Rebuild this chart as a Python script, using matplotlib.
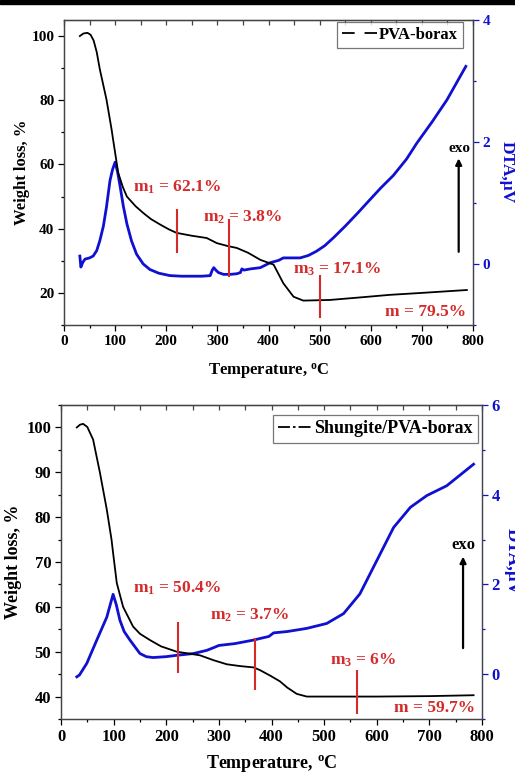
import matplotlib
matplotlib.use("Agg")
import matplotlib.pyplot as plt
from matplotlib.lines import Line2D
from matplotlib.patches import Rectangle
from matplotlib.ticker import MultipleLocator

# ---- PVA-borax (top panel) ----
pva_tga_T = [31, 38, 46, 52, 58, 64, 70, 83, 93, 96, 102, 106, 115, 123, 140, 155, 170,
             188, 205, 220, 250, 279, 299, 320, 338, 360, 384, 410, 429, 449, 468, 520,
             580, 638, 700, 788]
pva_tga_w = [100, 100.8, 101, 100.4, 98.6, 95, 89.7, 80.3, 71, 67.8, 61.6, 57.4, 53, 50,
             47, 44.9, 43, 41.3, 39.8, 38.7, 37.8, 37.1, 35.5, 34.6, 34, 32.5, 30.3, 28.8,
             23, 18.8, 17.6, 17.8, 18.6, 19.4, 20.0, 20.9]

pva_dta_T = [31, 33, 37, 41, 50, 57, 64, 70, 77, 83, 90, 95, 100, 105, 110, 116, 123,
             132, 142, 155, 168, 185, 207, 230, 253, 270, 286, 290, 293, 297, 302, 312,
             325, 338, 345, 348, 352, 365, 384, 403, 420, 429, 445, 462, 478, 494, 510,
             527, 550, 575, 599, 620, 644, 670, 690, 720, 749, 786]
pva_dta_v = [0.13, -0.05, 0.03, 0.08, 0.10, 0.13, 0.22, 0.38, 0.62, 0.93, 1.37, 1.55,
             1.67, 1.5, 1.26, 0.95, 0.66, 0.38, 0.16, 0.0, -0.09, -0.15, -0.19, -0.2,
             -0.2, -0.2, -0.19, -0.1, -0.06, -0.1, -0.14, -0.17, -0.17, -0.16, -0.14,
             -0.08, -0.1, -0.08, -0.06, 0.02, 0.06, 0.10, 0.10, 0.10, 0.14, 0.21, 0.30,
             0.43, 0.62, 0.84, 1.06, 1.25, 1.45, 1.72, 1.98, 2.33, 2.69, 3.24]

pva_mark_T = [222, 322, 500]
pva_mark_lo = [32.5, 25, 12.2]
pva_mark_hi = [46, 43, 25.6]
pva_labels = [r"m$_{\rm 1}$ = 62.1%", r"m$_{\rm 2}$ = 3.8%", r"m$_{\rm 3}$ = 17.1%", "m = 79.5%"]

# ---- Shungite/PVA-borax (bottom panel) ----
sh_tga_T = [30, 36, 42, 50, 61, 74, 87, 96, 99, 106, 118, 137, 150, 169, 190, 220, 264,
            290, 315, 340, 366, 378, 397, 416, 430, 448, 467, 500, 600, 700, 784]
sh_tga_w = [100, 100.6, 100.8, 100.1, 97.3, 89.9, 81.7, 75, 72, 65.3, 60, 55.6, 54, 52.6,
            51.2, 50, 49.2, 48.1, 47.2, 46.8, 46.5, 45.9, 44.7, 43.4, 42, 40.6, 40, 40,
            40, 40.1, 40.3]

sh_dta_T = [30, 35, 49, 68, 87, 99, 105, 112, 120, 131, 150, 162, 175, 200, 220, 252,
            277, 292, 300, 330, 366, 380, 395, 404, 430, 467, 505, 537, 568, 600, 632,
            664, 695, 733, 784]
sh_dta_v = [-0.06, -0.02, 0.24, 0.76, 1.27, 1.78, 1.55, 1.2, 0.95, 0.76, 0.46, 0.39,
            0.37, 0.39, 0.42, 0.46, 0.53, 0.6, 0.64, 0.68, 0.76, 0.8, 0.84, 0.92, 0.95,
            1.02, 1.13, 1.35, 1.79, 2.53, 3.27, 3.72, 3.98, 4.2, 4.68]

sh_mark_T = [223, 369, 563]
sh_mark_lo = [45.2, 41.4, 36.2]
sh_mark_hi = [56.7, 53, 45.9]
sh_labels = [r"m$_{\rm 1}$ = 50.4%", r"m$_{\rm 2}$ = 3.7%", r"m$_{\rm 3}$ = 6%", "m = 59.7%"]

plt.rcParams["font.family"] = ["Liberation Serif", "DejaVu Serif"]
plt.rcParams["font.weight"] = "bold"
plt.rcParams["mathtext.fontset"] = "custom"
plt.rcParams["mathtext.rm"] = "Liberation Serif:bold"
plt.rcParams["mathtext.it"] = "Liberation Serif:bold"
plt.rcParams["mathtext.bf"] = "Liberation Serif:bold"

BLUE = "#1010d0"
RED = "#d42a2a"
SPINE = "#444444"

fig = plt.figure(figsize=(5.15, 7.76), dpi=100)
fig.patches.append(Rectangle((0, 1 - 4 / 776), 1, 4 / 776, transform=fig.transFigure,
                             color="black", zorder=0))


def panel(rect, tga_T, tga_w, dta_T, dta_v, ylim, y2lim, ymaj, ymin, mark_T, mark_lo,
          mark_hi, labels, label_pos, legend_label, legend_ls, legend_anchor,
          handle_len, exo_T, exo_lo, exo_hi, xlabel_y, ylabel_x, y2label_x, fs):
    ax = fig.add_axes(rect)
    ax2 = ax.twinx()
    ax.set_zorder(ax2.get_zorder() + 1)
    ax.patch.set_visible(False)

    ax.plot(tga_T, tga_w, color="black", lw=1.3)
    ax2.plot(dta_T, dta_v, color=BLUE, lw=2.0)

    ax.set_xlim(0, 800)
    ax.set_ylim(*ylim)
    ax2.set_ylim(*y2lim)
    ax.xaxis.set_major_locator(MultipleLocator(100))
    ax.xaxis.set_minor_locator(MultipleLocator(50))
    ax.yaxis.set_major_locator(MultipleLocator(ymaj))
    ax.yaxis.set_minor_locator(MultipleLocator(ymin))
    ax2.yaxis.set_major_locator(MultipleLocator(2))
    ax2.yaxis.set_minor_locator(MultipleLocator(1))

    ax.tick_params(which="both", direction="out", labelsize=fs, colors="black",
                   width=0.9, pad=3)
    ax.tick_params(which="major", length=4)
    ax.tick_params(which="minor", length=2.5)
    ax2.tick_params(which="both", direction="out", labelsize=fs, colors=BLUE,
                    width=0.9, pad=3)
    ax2.tick_params(which="major", length=4)
    ax2.tick_params(which="minor", length=2.5)

    top = ax.secondary_xaxis("top")
    top.xaxis.set_major_locator(MultipleLocator(100))
    top.xaxis.set_minor_locator(MultipleLocator(50))
    top.tick_params(which="both", direction="in", labeltop=False, length=3.5,
                    width=0.9, colors=SPINE)
    top.spines["top"].set_color(SPINE)

    for a in (ax, ax2):
        for s in a.spines.values():
            s.set_color(SPINE)
            s.set_linewidth(0.9)
    ax2.spines["right"].set_color("#5050b0")

    for lbl in ax.get_xticklabels() + ax.get_yticklabels() + ax2.get_yticklabels():
        lbl.set_fontweight("bold")

    ax.vlines(mark_T, mark_lo, mark_hi, color=RED, lw=1.5)
    for txt, (tx, ty, ha) in zip(labels, label_pos):
        ax.text(tx, ty, txt, color=RED, fontsize=12.5, fontweight="bold", ha=ha,
                va="center")

    ax.annotate("", xy=(exo_T, exo_hi), xytext=(exo_T, exo_lo),
                arrowprops=dict(arrowstyle="-|>", color="black", lw=1.6,
                                mutation_scale=9, shrinkA=0, shrinkB=0))
    ax.text(exo_T + 1, exo_hi + (ylim[1] - ylim[0]) * 0.012, "exo", fontsize=fs,
            fontweight="bold", ha="center", va="bottom")

    ax.set_xlabel(r"Temperature, $^{\rm o}$C", fontsize=fs + 1, fontweight="bold")
    ax.xaxis.set_label_coords(0.5, xlabel_y)
    ax.set_ylabel("Weight loss, %", fontsize=fs + 1, fontweight="bold")
    ax.yaxis.set_label_coords(ylabel_x, 0.5)
    ax2.set_ylabel("DTA,\u03bcV", fontsize=fs + 1.5, fontweight="bold", color=BLUE,
                   rotation=270, va="center")
    ax2.yaxis.set_label_coords(y2label_x, 0.5)

    handle = Line2D([], [], color="black", lw=1.3, linestyle=legend_ls)
    leg = ax.legend([handle], [legend_label], loc="upper right", fontsize=fs + 1,
                    frameon=True, fancybox=False, borderaxespad=0,
                    bbox_to_anchor=legend_anchor, handlelength=handle_len,
                    handletextpad=0.1, borderpad=0.3)
    leg.get_frame().set_edgecolor("#555555")
    leg.get_frame().set_linewidth(0.9)
    for t in leg.get_texts():
        t.set_fontweight("bold")
    return ax, ax2


panel([64 / 515, 1 - 325 / 776, 409 / 515, 305 / 776],
      pva_tga_T, pva_tga_w, pva_dta_T, pva_dta_v, (10, 105), (-1, 4), 20, 10,
      pva_mark_T, pva_mark_lo, pva_mark_hi, pva_labels,
      [(135, 52.8, "left"), (272, 43.4, "left"), (448, 27.2, "left"),
       (787, 14, "right")],
      "PVA-borax", (0, (7, 5.5)), (1 - 10 / 409, 1 - 2 / 305), 2.1,
      772, 32.8, 61.9, -0.12, -0.083, 1.083, 11)

panel([61 / 515, 1 - 719 / 776, 421 / 515, 314 / 776],
      sh_tga_T, sh_tga_w, sh_dta_T, sh_dta_v, (35, 105), (-1, 6), 10, 5,
      sh_mark_T, sh_mark_lo, sh_mark_hi, sh_labels,
      [(137, 64.2, "left"), (283, 58.2, "left"), (511, 48.1, "left"),
       (787, 37.4, "right")],
      "Shungite/PVA-borax", (0, (6.6, 1.7, 1.4, 1.7)), (1 - 4 / 421, 1 - 10 / 314), 1.9,
      764, 50.8, 71.2, -0.107, -0.093, 1.072, 12)

fig.savefig("out.png", dpi=100)
